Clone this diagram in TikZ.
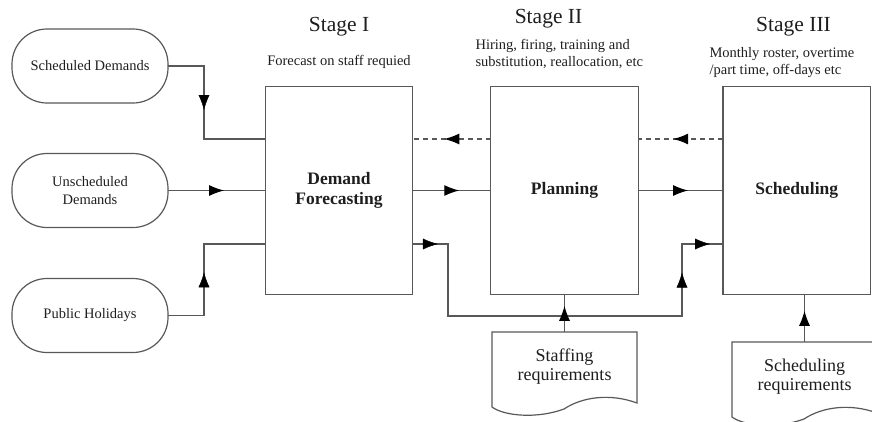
\documentclass[tikz,border=0pt]{standalone}
\usepackage{fontspec}
\setmainfont{Liberation Serif}
\usetikzlibrary{arrows.meta,decorations.markings,calc}
\definecolor{linegray}{RGB}{88,88,88}
\definecolor{inkgray}{RGB}{30,30,30}
\begin{document}
\begin{tikzpicture}[x=1pt,y=-1pt,
  line/.style={draw=linegray, line width=1.2pt},
  dashline/.style={line, dash pattern=on 5pt off 4pt},
  midarrow/.style={postaction={decorate},
    decoration={markings, mark=at position 0.5 with
      {\arrow[xshift=7.5pt]{Latex[length=15pt,width=11pt,color=black]}}}},
  source/.style={line, rounded corners=35pt, minimum width=156pt,
    minimum height=74pt, outer sep=0pt, align=center, text=inkgray,
    font=\fontsize{14.5}{18}\selectfont},
  stagebox/.style={line, rectangle, minimum width=147.5pt,
    minimum height=208pt, outer sep=0pt, align=center, text=inkgray,
    font=\fontsize{17.5}{20}\selectfont\bfseries},
  docarea/.style={rectangle, minimum width=145pt, minimum height=75pt,
    outer sep=0pt, inner sep=0pt},
  doctext/.style={align=center, text=inkgray,
    font=\fontsize{18}{19.5}\selectfont},
  title/.style={text=inkgray, font=\fontsize{21.5}{24}\selectfont},
  note/.style={text=inkgray, font=\fontsize{14.5}{17}\selectfont},
]
\useasboundingbox (0,0) rectangle (872,421);

% input sources
\node[source] (sd) at (90,66) {Scheduled Demands};
\node[source] (ud) at (90,190.5) {Unscheduled\\Demands};
\node[source] (ph) at (90,315.5) {Public Holidays};

% the three stages
\node[stagebox] (df) at (339,190.5) {Demand\\Forecasting};
\node[stagebox] (pl) at (564.5,190.5) {Planning};
\node[stagebox] (sc) at (796.75,190.5) {Scheduling};

% stage titles and notes
\node[title] (t1) at (339,27) {Stage I};
\node[note] (n1) at (339,62) {Forecast on staff requied};
\node[title] (t2) at (548.5,19) {Stage II};
\node[note, anchor=west, align=left] (n2) at (472,54)
  {Hiring, firing, training and\\substitution, reallocation, etc};
\node[title] (t3) at (793.5,27) {Stage III};
\node[note, anchor=west, align=left] (n3) at (706,63)
  {Monthly roster, overtime\\/part time, off-days etc};

% requirement documents
\node[docarea] (sr) at (564.5,369.5) {};
\draw[line, shift={(sr.south west)}] (0,0) -- (sr.north west) -- (sr.north east)
  -- (145,-4) .. controls (118,-14) and (90,-10) .. (72,2)
  .. controls (45,12) and (12,9) .. (0,0) -- cycle;
\node[doctext] (srtext) at (564.5,366.5) {Staffing\\requirements};

\node[docarea] (cr) at (804.5,379.5) {};
\draw[line, shift={(cr.south west)}] (0,0) -- (cr.north west) -- (cr.north east)
  -- (145,-4) .. controls (118,-14) and (90,-10) .. (72,2)
  .. controls (45,12) and (12,9) .. (0,0) -- cycle;
\node[doctext] (crtext) at (804.5,376.5) {Scheduling\\requirements};

% routing points
\coordinate (toprow) at (0,139);
\coordinate (lowrow) at (0,244);
\coordinate (a1) at (204,66);
\coordinate (a2) at (204,139);
\coordinate (b1) at (204,315.5);
\coordinate (b2) at (204,244);
\coordinate (h1) at (448,244);
\coordinate (h2) at (448,316);
\coordinate (h3) at (682,316);
\coordinate (h4) at (682,244);

% sources into demand forecasting
\draw[line] (sd.east) -- (a1) -- (a2) -- (a2 -| df.west);
\path[midarrow] (a1) -- (a2);
\draw[line, midarrow] (ud.east) -- (ud.east -| df.west);
\draw[line] (ph.east) -- (b1) -- (b2) -- (b2 -| df.west);
\path[midarrow] (b1) -- (b2);

% feedback between stages
\draw[dashline, midarrow] (pl.west |- toprow) -- (df.east |- toprow);
\draw[dashline, midarrow] (sc.west |- toprow) -- (pl.east |- toprow);

% forward flow between stages
\draw[line, midarrow] (df.east) -- (pl.west);
\draw[line, midarrow] (pl.east) -- (sc.west);

% bypass from forecasting to scheduling
\draw[line] (df.east |- lowrow) -- (h1) -- (h2) -- (h3) -- (h4) -- (sc.west |- lowrow);
\path[midarrow] (df.east |- lowrow) -- (h1);
\path[midarrow] (h3) -- (h4);
\path[midarrow] (h4) -- (sc.west |- lowrow);

% requirements into planning and scheduling
\draw[line, midarrow] (sr.north) -- (pl.south);
\draw[line, midarrow] (cr.north) -- (cr.north |- sc.south);
\end{tikzpicture}
\end{document}
